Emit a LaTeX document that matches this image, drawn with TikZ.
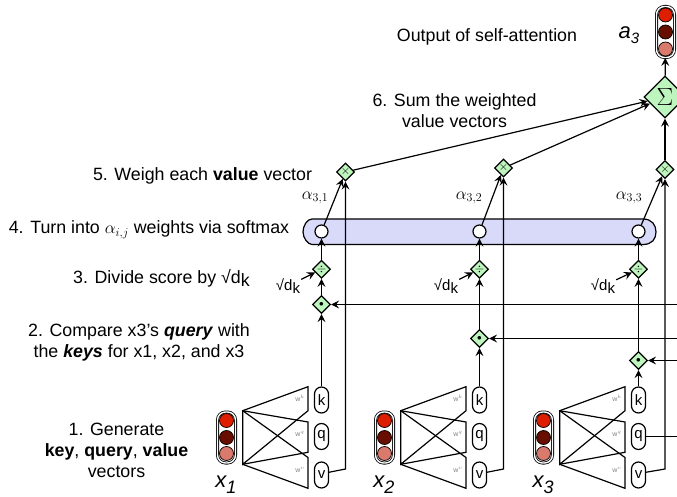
\documentclass[tikz,border=0pt]{standalone}
\usepackage{fontspec}
\setmainfont{Liberation Sans}
\usetikzlibrary{shapes.geometric,arrows.meta}

\definecolor{redhi}{RGB}{222,30,0}
\definecolor{reddark}{RGB}{104,14,0}
\definecolor{redpale}{RGB}{217,122,108}
\definecolor{opgreen}{RGB}{190,245,190}
\definecolor{barblue}{RGB}{217,217,250}

\tikzset{
    conn/.style={line width=1.2pt},
    arr/.style={conn,-{Stealth[length=8pt,width=8pt,inset=3pt]}},
    caption/.style={font=\fontsize{17.8}{21}\selectfont,align=center,inner sep=0pt},
    varname/.style={font=\fontsize{22}{22}\selectfont\itshape,inner sep=0pt},
    light/.style={draw,line width=0.8pt,double,double distance=1.4pt,rounded corners=8pt,minimum width=18pt,minimum height=51pt,inner sep=0pt},
    bulb/.style={circle,draw,line width=0.7pt,minimum size=14pt,inner sep=0pt},
    op/.style={diamond,draw,conn,fill=opgreen,minimum width=18pt,minimum height=18pt,inner sep=0pt,font=\fontsize{12}{12}\selectfont},
    vecbox/.style={draw,conn,fill=white,rounded corners=7pt,minimum width=14pt,minimum height=26pt,inner sep=0pt,font=\fontsize{15}{15}\selectfont},
    softdot/.style={circle,draw,conn,fill=white,minimum size=13pt,inner sep=0pt},
    wlabel/.style={font=\fontsize{7}{7}\selectfont,text=gray,inner sep=0pt},
}

\begin{document}
\begin{tikzpicture}[x=1pt,y=1pt,yscale=-1]
    \useasboundingbox (0,0) rectangle (677,497);

    % softmax bar
    \draw [conn,fill=barblue] (312,219) -- (643,219) .. controls (652,219) and (656,225) .. (656,232) .. controls (656,239) and (652,244.5) .. (643,244.5) -- (312,244.5) .. controls (308,244.5) and (303,238) .. (303,232) .. controls (303,226) and (307,219) .. (312,219) -- cycle ;

    % one column for each input
    \foreach \col/\dx/\doty/\multx/\multy/\alphax/\dkx in {1/0/304.5/345.5/172/315/288,2/158/338.5/345.5/168/311/288,3/317/360.5/348/169.5/312/286}{
    \begin{scope}[xshift=\dx]
        % input vector
        \node [light] (light\col) at (226.5,437.5) {};
        \node [bulb,fill=redhi] (bulb\col a) at (226.5,420.5) {};
        \node [bulb,fill=reddark] (bulb\col b) at (226.5,437.5) {};
        \node [bulb,fill=redpale] (bulb\col c) at (226.5,453.5) {};
        \node [varname] (x\col) at (226,485) {x\raisebox{-6pt}{\fontsize{18}{18}\selectfont\col}};

        % projection matrices
        \draw [conn] (242.7,410.7) -- (308,386.7) -- (308,410.7) -- (242.7,464.3) -- cycle ;
        \draw [conn] (242.7,410.7) -- (308,422) -- (308,452.3) -- (242.7,464.3) ;
        \draw [conn] (242.7,410.7) -- (308,457.5) -- (308,488.3) -- (242.7,464.3) ;
        \node [wlabel] (wk\col) at (300,398) {w$^k$};
        \node [wlabel] (wq\col) at (300,434) {w$^q$};
        \node [wlabel] (wv\col) at (300,470) {w$^v$};

        \node [vecbox] (kbox\col) at (321.5,400) {k};
        \node [vecbox] (qbox\col) at (321.5,436.5) {q};
        \node [vecbox] (vbox\col) at (321.5,475) {v};

        % operators
        \node [op,font=\fontsize{9}{9}\selectfont] (dot\col) at (321.5,\doty) {$\bullet$};
        \node [op] (div\col) at (321.5,269.3) {$\div$};
        \node [softdot] (soft\col) at (321.5,231.5) {};
        \node [op] (mult\col) at (\multx,\multy) {$\times$};
        \coordinate (vturn\col) at (\multx,469);

        \draw [arr] (kbox\col) -- (dot\col);
        \draw [arr] (dot\col) -- (div\col);
        \draw [arr] (div\col) -- (soft\col);
        \draw [arr] (soft\col) -- (mult\col);
        \draw [arr] (vbox\col.20) -- (vturn\col) -- (mult\col);

        \node [inner sep=0pt,font=\fontsize{17}{17}\selectfont] (alpha\col) at (\alphax,198) {$\alpha_{3,\col}$};
        \node [font=\fontsize{15}{15}\selectfont,inner sep=1pt] (dk\col) at (\dkx,286) {√d\raisebox{-3pt}{k}};
        \draw [arr] (dk\col) -- (div\col);
    \end{scope}
    }

    % score lines from off the page
    \coordinate (in1) at (677,304.5);
    \coordinate (in2) at (677,338.5);
    \coordinate (in3) at (677,360.5);
    \coordinate (qout) at (677,436.5);
    \draw [arr] (in1) -- (dot1);
    \draw [arr] (in2) -- (dot2);
    \draw [arr] (in3) -- (dot3);
    \draw [conn] (qbox3) -- (qout);

    % sum and output
    \node [op,minimum width=42pt,minimum height=42pt,font=\fontsize{33}{33}\selectfont] (sum) at (665,97) {$\Sigma$};
    \node [light] (lightout) at (665.5,32) {};
    \node [bulb,fill=redhi] (bulbouta) at (665.5,15) {};
    \node [bulb,fill=reddark] (bulboutb) at (665.5,32) {};
    \node [bulb,fill=redpale] (bulboutc) at (665.5,49) {};
    \node [varname] (a3) at (629,35) {a\raisebox{-5pt}{\fontsize{15}{15}\selectfont 3}};

    \draw [arr] (mult1) -- (sum);
    \draw [arr] (mult2) -- (sum);
    \draw [arr] (mult3) -- (sum);
    \draw [arr] (sum) -- (lightout);

    % step captions
    \node [caption] (title) at (487,37) {Output of self-attention};
    \node [caption] (step6) at (454.5,111) {6. Sum the weighted\\value vectors};
    \node [caption] (step5) at (202.5,176) {5. Weigh each \textbf{value} vector};
    \node [caption] (step4) at (149,230) {4. Turn into $\alpha_{i,j}$ weights via softmax};
    \node [caption] (step3) at (161.5,278) {3. Divide score by √d\raisebox{-3pt}{k}};
    \node [caption] (step2) at (139,342) {2. Compare x3's \textbf{\textit{query}} with\\the \textbf{\textit{keys}} for x1, x2, and x3};
    \node [caption] (step1) at (116.5,450) {1. Generate\\\textbf{key}, \textbf{query}, \textbf{value}\\vectors};
\end{tikzpicture}
\end{document}
